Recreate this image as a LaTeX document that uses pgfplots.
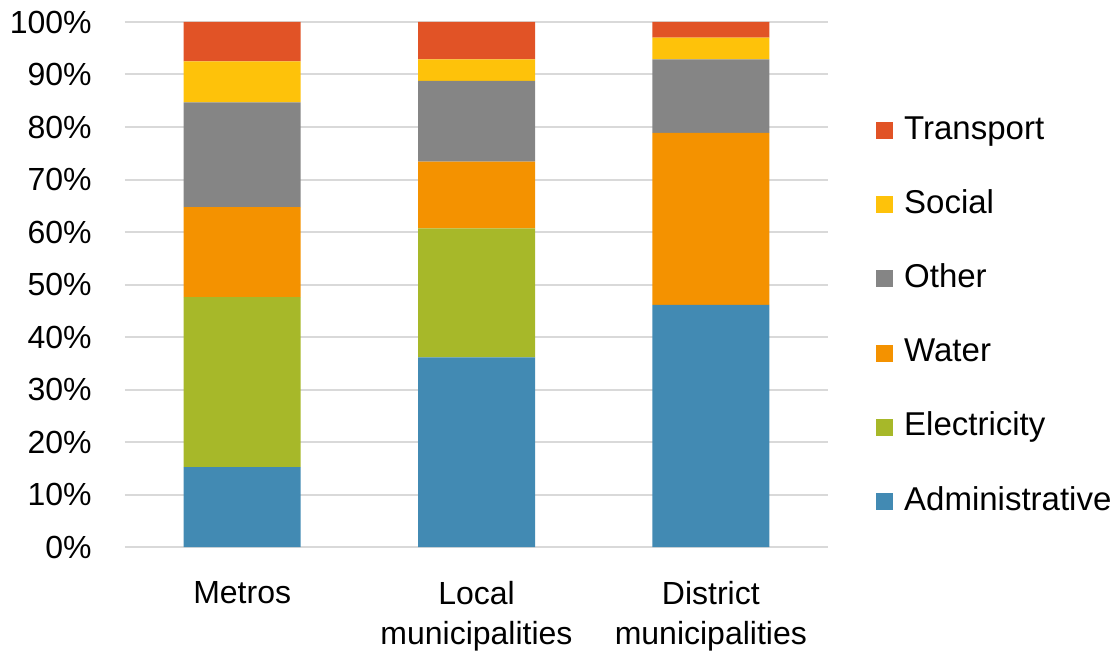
\documentclass[border=0pt]{standalone}
\usepackage{fontspec}
\setmainfont{Liberation Sans}
\usepackage{pgfplots}
\pgfplotsset{compat=1.18}
\definecolor{cAdm}{HTML}{428AB3}
\definecolor{cEle}{HTML}{A7B829}
\definecolor{cWat}{HTML}{F49200}
\definecolor{cOth}{HTML}{858585}
\definecolor{cSoc}{HTML}{FEC20A}
\definecolor{cTra}{HTML}{E15326}
\definecolor{cGrid}{HTML}{D9D9D9}
\begin{document}
\begin{tikzpicture}
\fontsize{16}{20}\selectfont
\begin{axis}[
  at={(0,0)}, anchor=south west,
  scale only axis,
  width=351.5pt, height=262.5pt,
  ybar stacked,
  bar width=58.5pt,
  xmin=-0.5, xmax=2.5,
  ymin=0, ymax=100,
  axis line style={draw=none},
  major tick length=0pt,
  ytick={0,10,...,100},
  yticklabels={0\%,10\%,20\%,30\%,40\%,50\%,60\%,70\%,80\%,90\%,100\%},
  ymajorgrids,
  grid style={cGrid, line width=1pt},
  xtick={0,1,2},
  xticklabels={Metros,Local\\municipalities,District\\municipalities},
  xticklabel style={align=center, inner sep=0pt, anchor=north, yshift=-17pt, font=\fontsize{16}{20}\selectfont},
  yticklabel style={inner sep=0pt, anchor=east, xshift=-16.5pt, font=\fontsize{16}{20}\selectfont},
  reverse legend,
  legend cell align=left,
  legend style={draw=none, fill=none, at={(1.068,0.44)}, anchor=west,
    inner sep=0pt, row sep=21.6pt,
    font=\fontsize{16.5}{20}\selectfont,
    nodes={inner sep=0pt, text height=12pt, text depth=3.5pt},
    /tikz/every odd column/.append style={column sep=5.5pt}},
  legend image code/.code={\fill[#1, draw=none] (0pt,-4.25pt) rectangle (8.5pt,4.25pt);},
]
\addplot[fill=cAdm, draw=none] coordinates {(0,15.2) (1,36.1) (2,46.1)};
\addplot[fill=cEle, draw=none] coordinates {(0,32.4) (1,24.6) (2,0)};
\addplot[fill=cWat, draw=none] coordinates {(0,17.15) (1,12.7) (2,32.8)};
\addplot[fill=cOth, draw=none] coordinates {(0,19.95) (1,15.4) (2,14.0)};
\addplot[fill=cSoc, draw=none] coordinates {(0,7.8) (1,4.1) (2,4.1)};
\addplot[fill=cTra, draw=none] coordinates {(0,7.5) (1,7.1) (2,3.0)};
\legend{Administrative,Electricity,Water,Other,Social,Transport}
\end{axis}
\path (-62.5pt,-51.5pt) rectangle (497pt,273.5pt);
\end{tikzpicture}
\end{document}
